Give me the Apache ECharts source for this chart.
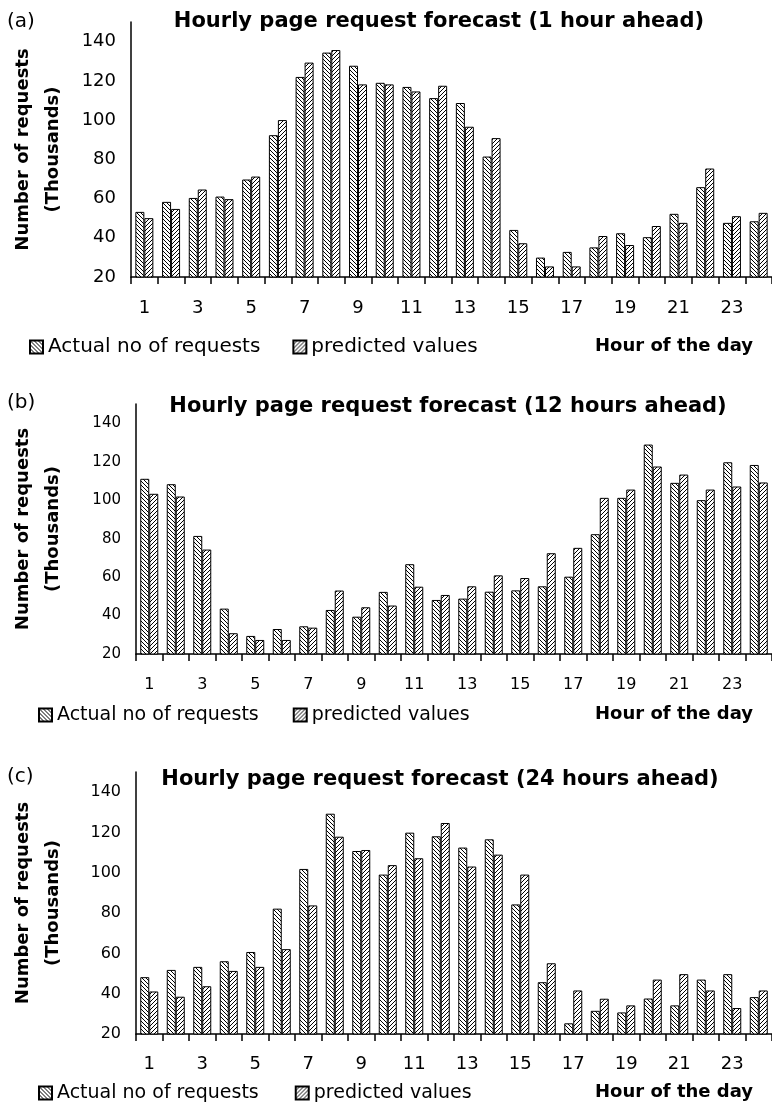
<!DOCTYPE html>
<html>
<head>
<meta charset="utf-8">
<title>Hourly page request forecast</title>
<script src="https://cdn.jsdelivr.net/npm/echarts@6/dist/echarts.min.js"></script>
<style>
  body { margin: 0; background: #fff; }
  #chart { width: 772px; height: 1106px; }
</style>
</head>
<body>
<div id="chart"></div>
<script>
  // 数据：每小时的请求数（千）
  const hours = ['1','2','3','4','5','6','7','8','9','10','11','12','13','14','15','16','17','18','19','20','21','22','23','24'];
  const yTicks = [20, 40, 60, 80, 100, 120, 140];

  // (a) 1 hour ahead
  const actualA = [53.2, 58.3, 60.3, 61, 69.7, 92.3, 122, 134.4, 127.7, 119, 116.9, 111.2, 108.7, 81.4, 44, 29.9, 32.8, 35.1, 42.3, 40.3, 52.2, 65.8, 47.6, 48.4];
  const predictedA = [50, 54.7, 64.6, 59.7, 71.2, 100, 129.3, 135.7, 118.2, 118.2, 114.6, 117.5, 96.6, 90.8, 37.2, 25.4, 25.4, 40.9, 36.3, 46, 47.6, 75.3, 51, 52.7];

  // (b) 12 hours ahead
  const actualB = [111.1, 108.3, 81.4, 43.6, 29.4, 33, 34.4, 42.9, 39.4, 52.3, 66.7, 48.1, 48.8, 52.4, 53.1, 55.2, 60.2, 82.3, 101.2, 128.9, 109, 100, 119.7, 118.3];
  const predictedB = [103.3, 101.9, 74.3, 30.8, 27.3, 27.3, 33.7, 53, 44.3, 45.2, 55, 50.7, 55.2, 60.9, 59.5, 72.4, 75.2, 101.2, 105.5, 117.5, 113.3, 105.5, 107.1, 109.2];

  // (c) 24 hours ahead
  const actualC = [48.2, 51.8, 53.3, 56.1, 60.7, 82.2, 101.9, 129.3, 110.8, 99.1, 119.9, 118.1, 112.5, 116.6, 84.3, 45.7, 25.3, 31.5, 30.7, 37.6, 34.2, 47, 49.7, 38.3];
  const predictedC = [41.1, 38.5, 43.7, 51.3, 53.3, 62.1, 83.8, 117.9, 111.3, 103.8, 107.2, 124.7, 103.1, 109, 99.1, 55.1, 41.6, 37.5, 34.2, 47, 49.7, 41.6, 32.9, 41.6];

  const titles = [
    'Hourly page request forecast (1 hour ahead)',
    'Hourly page request forecast (12 hours ahead)',
    'Hourly page request forecast (24 hours ahead)'
  ];
  const panelTags = ['(a)', '(b)', '(c)'];
  const seriesNames = ['Actual no of requests', 'predicted values'];

  // 斜线填充
  function makeHatch(dir) {
    const s = 4;
    const c = document.createElement('canvas');
    c.width = s; c.height = s;
    const ctx = c.getContext('2d');
    ctx.fillStyle = '#fff';
    ctx.fillRect(0, 0, s, s);
    ctx.strokeStyle = '#000';
    ctx.lineWidth = 1;
    ctx.beginPath();
    if (dir === 'down') {
      ctx.moveTo(-1, -1); ctx.lineTo(s + 1, s + 1);
      ctx.moveTo(-1, s - 1); ctx.lineTo(1, s + 1);
      ctx.moveTo(s - 1, -1); ctx.lineTo(s + 1, 1);
    } else {
      ctx.moveTo(-1, s + 1); ctx.lineTo(s + 1, -1);
      ctx.moveTo(-1, 1); ctx.lineTo(1, -1);
      ctx.moveTo(s - 1, s + 1); ctx.lineTo(s + 1, s - 1);
    }
    ctx.stroke();
    return c;
  }
  const actualFill = { image: makeHatch('down'), repeat: 'repeat' };
  const predictedFill = { image: makeHatch('up'), repeat: 'repeat' };

  // 每个面板的位置
  const panels = [
    { grid: { left: 128, top: 22, width: 650, height: 255 }, actual: actualA, predicted: predictedA,
      yFont: 18, xFont: 18, xMargin: 22, legendTop: 337, legendLeft: 29, legendFont: 20, legendGap: 32,
      titleX: 439, titleY: 22, tagY: 22, hourY: 346, nameGap: 63 },
    { grid: { left: 133, top: 404, width: 646, height: 250 }, actual: actualB, predicted: predictedB,
      yFont: 15, xFont: 16, xMargin: 23, legendTop: 705, legendLeft: 38, legendFont: 19, legendGap: 34,
      titleX: 448, titleY: 407, tagY: 403, hourY: 714, nameGap: 68 },
    { grid: { left: 133, top: 772, width: 646, height: 262 }, actual: actualC, predicted: predictedC,
      yFont: 16, xFont: 18, xMargin: 21, legendTop: 1083, legendLeft: 38, legendFont: 19, legendGap: 36,
      titleX: 440, titleY: 780, tagY: 777, hourY: 1092, nameGap: 68 }
  ];

  const grids = [], xAxes = [], yAxes = [], series = [], legends = [], graphics = [];

  panels.forEach(function (p, i) {
    grids.push(p.grid);
    xAxes.push({
      type: 'category',
      gridIndex: i,
      data: hours,
      boundaryGap: true,
      axisLine: { lineStyle: { color: '#000', width: 1.5 } },
      axisTick: { show: true, interval: 0, length: 7, lineStyle: { color: '#000', width: 1.5 } },
      axisLabel: { interval: 1, margin: p.xMargin, color: '#000', fontSize: p.xFont, fontFamily: 'DejaVu Sans' },
      splitLine: { show: false }
    });
    yAxes.push({
      type: 'value',
      gridIndex: i,
      min: yTicks[0],
      max: 150,
      interval: 20,
      name: 'Number of requests\n(Thousands)',
      nameLocation: 'middle',
      nameRotate: 90,
      nameGap: p.nameGap,
      nameTextStyle: { color: '#000', fontSize: 18, fontWeight: 'bold', fontFamily: 'DejaVu Sans', lineHeight: 30 },
      axisLine: { show: true, lineStyle: { color: '#000', width: 1.5 } },
      axisTick: { show: false },
      axisLabel: {
        margin: 15, color: '#000', fontSize: p.yFont, fontFamily: 'DejaVu Sans', showMaxLabel: false,
        formatter: function (v) { return yTicks.indexOf(v) >= 0 ? String(v) : ''; }
      },
      splitLine: { show: false }
    });
    series.push({
      name: seriesNames[0], type: 'bar', xAxisIndex: i, yAxisIndex: i,
      data: p.actual, barWidth: 9, barGap: '0%',
      itemStyle: { color: actualFill, borderColor: '#000', borderWidth: 1 }
    });
    series.push({
      name: seriesNames[1], type: 'bar', xAxisIndex: i, yAxisIndex: i,
      data: p.predicted, barWidth: 9, barGap: '0%',
      itemStyle: { color: predictedFill, borderColor: '#000', borderWidth: 1 }
    });
    legends.push({
      left: p.legendLeft, top: p.legendTop, padding: 0,
      itemWidth: 13, itemHeight: 13, itemGap: p.legendGap,
      icon: 'rect',
      data: seriesNames,
      selectedMode: false,
      textStyle: { color: '#000', fontSize: p.legendFont, fontFamily: 'DejaVu Sans', lineHeight: 20 }
    });
    // 标题、面板编号、横轴名称
    graphics.push({
      type: 'text', x: p.titleX, y: p.titleY,
      style: { text: titles[i], font: 'bold 21px "DejaVu Sans"', fill: '#000', textAlign: 'center', textVerticalAlign: 'middle' }
    });
    graphics.push({
      type: 'text', x: 7, y: p.tagY,
      style: { text: panelTags[i], font: '20px "DejaVu Sans"', fill: '#000', textAlign: 'left', textVerticalAlign: 'middle' }
    });
    graphics.push({
      type: 'text', x: 753, y: p.hourY,
      style: { text: 'Hour of the day', font: 'bold 18px "DejaVu Sans"', fill: '#000', textAlign: 'right', textVerticalAlign: 'middle' }
    });
  });

  const chart = echarts.init(document.getElementById('chart'));
  chart.setOption({
    animation: false,
    backgroundColor: '#fff',
    grid: grids,
    xAxis: xAxes,
    yAxis: yAxes,
    legend: legends,
    series: series,
    graphic: graphics
  });
  window.addEventListener('resize', function () { chart.resize(); });
</script>
</body>
</html>
